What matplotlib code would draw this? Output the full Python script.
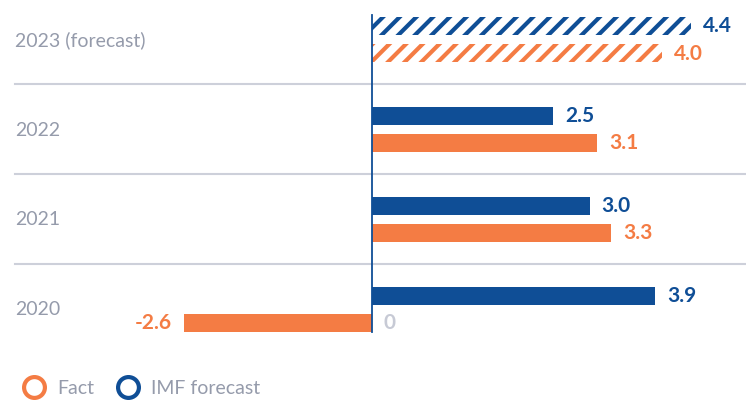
import matplotlib
matplotlib.use("Agg")
import matplotlib.pyplot as plt
from matplotlib.lines import Line2D

years = ["2023 (forecast)", "2022", "2021", "2020"]
imf_forecast = [4.4, 2.5, 3.0, 3.9]
fact = [4.0, 3.1, 3.3, -2.6]
forecast_year = [True, False, False, False]

BLUE = "#0f4e96"
ORANGE = "#f47c44"
GRAY = "#959bab"
LIGHT = "#c7cad5"
GRID = "#cdd0da"

plt.rcParams["font.family"] = ["Lato", "DejaVu Sans"]
plt.rcParams["hatch.linewidth"] = 3.0

W, H = 746, 402
fig = plt.figure(figsize=(W / 100, H / 100), dpi=100)
ax = fig.add_axes([0, 0, 1, 1])

# pixel-matched limits: zero at x=372; group rows 90 px apart
ppu = 72.5
ax.set_xlim(-372 / ppu, (W - 372) / ppu)
ax.set_ylim((H - 40) / 90, -40 / 90)
ax.axis("off")

bh = 0.2
off = 0.15
gap = 12 / ppu
for i, y in enumerate(years):
    if forecast_year[i]:
        ax.barh(i - off, imf_forecast[i], height=bh, color="white",
                edgecolor=BLUE, hatch="//", linewidth=0)
        ax.barh(i + off, fact[i], height=bh, color="white",
                edgecolor=ORANGE, hatch="//", linewidth=0)
    else:
        ax.barh(i - off, imf_forecast[i], height=bh, color=BLUE)
        ax.barh(i + off, fact[i], height=bh, color=ORANGE)

    ax.text(ax.get_xlim()[0] + 15 / ppu, i, y, ha="left", va="center",
            fontsize=14, color=GRAY)

    ax.text(imf_forecast[i] + gap, i - off, f"{imf_forecast[i]:.1f}",
            ha="left", va="center", fontsize=15, fontweight="bold",
            color=BLUE)
    if fact[i] >= 0:
        ax.text(fact[i] + gap, i + off, f"{fact[i]:.1f}", ha="left",
                va="center", fontsize=15, fontweight="bold", color=ORANGE)
    else:
        ax.text(fact[i] - gap, i + off, f"{fact[i]:.1f}", ha="right",
                va="center", fontsize=15, fontweight="bold", color=ORANGE)
        ax.text(gap, i + off, "0", ha="left", va="center", fontsize=15,
                fontweight="bold", color=LIGHT)

# separators between groups
x0 = ax.get_xlim()[0] + 15 / ppu
for k in range(len(years) - 1):
    ax.plot([x0, ax.get_xlim()[1]], [k + 0.5, k + 0.5], color=GRID, lw=1.5,
            zorder=0)

# zero line
ax.plot([0, 0], [-0.27, 3.26], color=BLUE, lw=1.3, zorder=3)

handles = [
    Line2D([], [], marker="o", ls="none", markersize=15, markerfacecolor="none",
           markeredgecolor=ORANGE, markeredgewidth=3),
    Line2D([], [], marker="o", ls="none", markersize=15, markerfacecolor="none",
           markeredgecolor=BLUE, markeredgewidth=3),
]
leg = fig.legend(handles, ["Fact", "IMF forecast"], loc="center left",
                 bbox_to_anchor=(5 / W, 1 - 389 / H), ncol=2, frameon=False,
                 fontsize=14, handletextpad=0.6, columnspacing=1.1,
                 handlelength=1.2)
for t in leg.get_texts():
    t.set_color(GRAY)

fig.savefig("out.png", dpi=100)
